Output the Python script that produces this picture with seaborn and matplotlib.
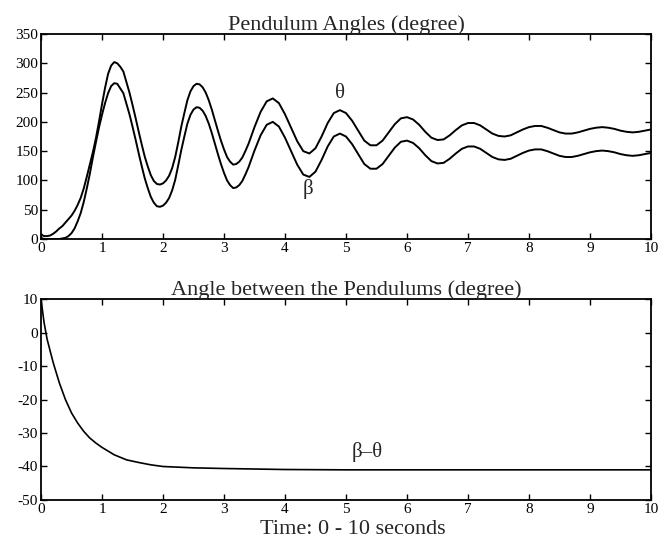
import matplotlib
matplotlib.use('Agg')
from matplotlib import pyplot as plt
import pandas as pd
import seaborn as sns

# sample times (s): 0.05 steps up to 3.4 s, then 0.1 steps
t = [round(i * 0.05, 2) for i in range(69)] + \
    [round(3.5 + i * 0.1, 1) for i in range(66)]

theta = [8, 5, 5, 6, 9, 13, 18, 22, 28, 34,
         40, 48, 58, 70, 86, 106, 127, 148, 172, 200,
         230, 258, 282, 296, 302, 300, 294, 286, 268, 250,
         229, 207, 184, 162, 141, 124, 109, 99, 94, 93,
         95, 100, 108, 121, 140, 165, 192, 215, 237, 252,
         261, 265, 264, 259, 250, 237, 221, 203, 185, 168,
         153, 140, 132, 127, 128, 132, 139, 150, 162,
         # 3.5 s onwards
         191, 217, 235, 240, 232,
         213, 190, 167, 150, 146, 155, 175, 198, 215, 220,
         215, 202, 185, 168, 160, 160, 168, 182, 196, 206,
         208, 204, 195, 183, 173, 169, 170, 177, 186, 194,
         198, 198, 194, 187, 180, 176, 175, 177, 182, 187,
         191, 193, 193, 190, 186, 182, 180, 180, 182, 185,
         188, 190, 191, 190, 188, 185, 183, 182, 183, 185,
         187]

beta = [2, 0, 0, 0, 0, 0, 0, 1, 2, 5,
        10, 18, 30, 44, 63, 86, 111, 139, 165, 190,
        212, 232, 249, 261, 266, 265, 257, 249, 231, 213,
        192, 170, 147, 125, 104, 87, 72, 62, 56, 55,
        57, 62, 70, 83, 101, 126, 152, 175, 197, 212,
        221, 225, 224, 219, 210, 197, 181, 163, 145, 128,
        113, 100, 92, 87, 88, 92, 99, 110, 122,
        # 3.5 s onwards
        151, 177, 195, 200, 192,
        173, 150, 127, 110, 106, 115, 135, 158, 175, 180,
        175, 162, 145, 128, 120, 120, 128, 142, 156, 166,
        168, 164, 155, 143, 133, 129, 130, 137, 146, 154,
        158, 158, 154, 147, 140, 136, 135, 137, 142, 147,
        151, 153, 153, 150, 146, 142, 140, 140, 142, 145,
        148, 150, 151, 150, 148, 145, 143, 142, 143, 145,
        147]

# angle between the pendulums
t_diff = [0, 0.05, 0.1, 0.2, 0.3, 0.4, 0.5, 0.6, 0.7, 0.8, 0.9, 1.0,
          1.2, 1.4, 1.6, 1.8, 2.0, 2.5, 3.0, 4.0, 5.0, 6.0, 7.0, 8.0,
          9.0, 10.0]
diff = [10, 3, -2, -9, -15, -20, -24, -27, -29.5, -31.5, -33, -34.3,
        -36.5, -38, -38.8, -39.5, -40, -40.4, -40.6, -40.9, -41, -41,
        -41, -41, -41, -41]

top_ticks = [0, 50, 100, 150, 200, 250, 300, 350]
bottom_ticks = [10, 0, -10, -20, -30, -40, -50]
x_ticks = list(range(11))

sns.set_style('ticks')
plt.rcParams['font.family'] = ['Liberation Serif', 'DejaVu Serif']
plt.rcParams['axes.unicode_minus'] = False
plt.rcParams['xtick.direction'] = 'in'
plt.rcParams['ytick.direction'] = 'in'

fig = plt.figure(figsize=(6.7, 5.42), dpi=100)
ax1 = fig.add_axes([0.0612, 0.559, 0.9104, 0.3783])
ax2 = fig.add_axes([0.0612, 0.0775, 0.9104, 0.3708])

angles = pd.DataFrame({'t': t, 'theta': theta, 'beta': beta})
sns.lineplot(data=angles, x='t', y='theta', color='black', lw=1.4, ax=ax1)
sns.lineplot(data=angles, x='t', y='beta', color='black', lw=1.4, ax=ax1)
ax1.set_ylim(0, 350)
ax1.set_yticks(top_ticks)
ax1.set_title('Pendulum Angles (degree)', fontsize=16, pad=3)
ax1.text(4.9, 249, 'θ', fontsize=15, ha='center', va='center')
ax1.text(4.38, 86, 'β', fontsize=15, ha='center', va='center')

between = pd.DataFrame({'t': t_diff, 'diff': diff})
sns.lineplot(data=between, x='t', y='diff', color='black', lw=1.2, ax=ax2)
ax2.set_ylim(-50, 10)
ax2.set_yticks(bottom_ticks)
ax2.set_title('Angle between the Pendulums (degree)', fontsize=16, pad=3)
ax2.text(5.34, -35.8, 'β–θ', fontsize=15, ha='center', va='center')

for ax in (ax1, ax2):
    ax.set_xlim(0, 10)
    ax.set_xticks(x_ticks)
    ax.tick_params(top=True, right=True, length=4, width=1,
                   labelsize=11, pad=2, colors='black')
    for s in ax.spines.values():
        s.set_linewidth(1.3)
        s.set_color('black')
    ax.set_ylabel('')
    ax.set_xlabel('')

fig.text(0.527, 0.023, 'Time: 0 - 10 seconds', fontsize=16,
         ha='center', va='center')

fig.savefig('out.png', dpi=100)
